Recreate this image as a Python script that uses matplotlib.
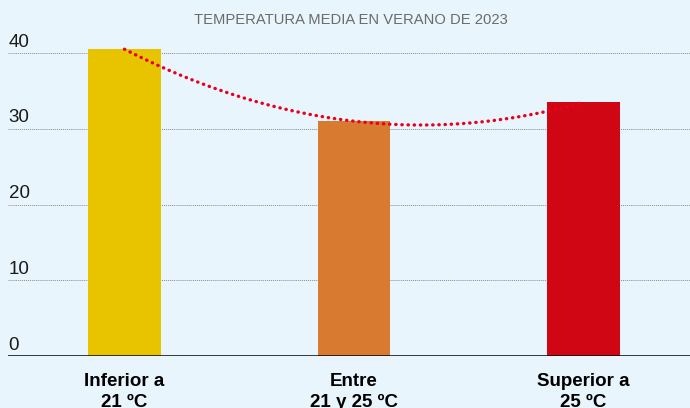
import numpy as np
import matplotlib
matplotlib.use("Agg")
import matplotlib.pyplot as plt
import matplotlib.transforms as mtransforms

# datos
categorias = ["Inferior a\n21 ºC", "Entre\n21 y 25 ºC", "Superior a\n25 ºC"]
valores = [40.5, 31.0, 33.5]
colores = ["#e8c300", "#d97a31", "#d00614"]
yticks = [0, 10, 20, 30, 40]
titulo = "TEMPERATURA MEDIA EN VERANO DE 2023"

fondo = "#e9f5fd"
plt.rcParams['font.family'] = ['Liberation Sans', 'DejaVu Sans']

fig = plt.figure(figsize=(6.9, 4.08), dpi=100, facecolor=fondo)
ax = fig.add_axes([8/690, (408-356)/408, 682/690, (356-22.7)/408])
ax.set_facecolor(fondo)

x = np.arange(len(valores))
ax.bar(x, valores, width=0.318, color=colores, zorder=2)

# linea de tendencia (ajuste cuadratico sobre los valores)
coef = np.polyfit(x, valores, 2)
xs = np.linspace(x[0], x[-1], 200)
ax.plot(xs, np.polyval(coef, xs), color="#e8001c", lw=2.4,
        linestyle=(0, (0.1, 1.75)), dash_capstyle="round", zorder=3)

ax.set_xlim(-0.5076, 2.464)
ax.set_ylim(0, 44)

for v in yticks[1:]:
    ax.axhline(v, color="#8a8a8a", lw=0.7, linestyle=(0, (1, 1)), zorder=1)
ax.axhline(0, color="black", lw=1.8, zorder=4)

trans = mtransforms.blended_transform_factory(ax.transAxes, ax.transData)
for v in yticks:
    ax.text(0.001, v + 0.85, str(v), transform=trans, ha="left",
            va="baseline", fontsize=13.5, color="#1a1a1a")

for s in ax.spines.values():
    s.set_visible(False)
ax.set_yticks([])
ax.set_xticks(x)
ax.set_xticklabels(categorias, fontsize=13.5, fontweight="bold",
                   linespacing=1.3)
ax.tick_params(axis="x", length=0, pad=12)

fig.text(351/690, 1 - 20/408, titulo, ha="center", va="center",
         fontsize=10.6, color="#6b6b6b")

fig.savefig("out.png", dpi=100, facecolor=fondo)
